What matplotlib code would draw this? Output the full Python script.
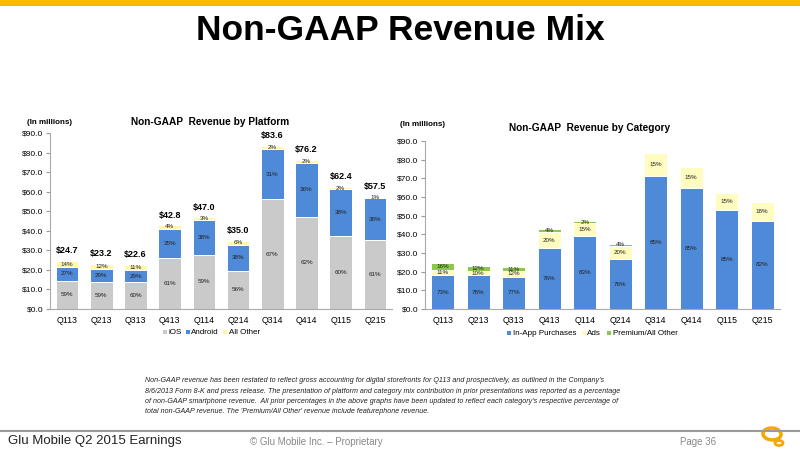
import matplotlib
matplotlib.use("Agg")
import matplotlib.pyplot as plt
import numpy as np
from matplotlib.patches import Ellipse, Rectangle

# données
quarters = ["Q113", "Q213", "Q313", "Q413", "Q114", "Q214", "Q314", "Q414", "Q115", "Q215"]
totals = [24.7, 23.2, 22.6, 42.8, 47.0, 35.0, 83.6, 76.2, 62.4, 57.5]

# revenus par plateforme (%)
ios_pct = [59, 59, 60, 61, 59, 56, 67, 62, 60, 61]
android_pct = [27, 29, 29, 35, 38, 38, 31, 36, 38, 38]
other_pct = [14, 12, 11, 4, 3, 6, 2, 2, 2, 1]

# revenus par catégorie (%)
iap_pct = [73, 78, 77, 76, 83, 76, 85, 85, 85, 82]
ads_pct = [11, 10, 12, 20, 15, 20, 15, 15, 15, 18]
premium_pct = [16, 12, 11, 4, 2, 4, 0, 0, 0, 0]

platform_names = ["iOS", "Android", "All Other"]
platform_colors = ["#CACACA", "#4F8AD8", "#FFF8A8"]
category_names = ["In-App Purchases", "Ads", "Premium/All Other"]
category_colors = ["#4F8AD8", "#FFFCC0", "#8CC850"]

ARIAL = ["Liberation Sans", "DejaVu Sans"]
plt.rcParams["font.family"] = ARIAL

fig = plt.figure(figsize=(8, 4.5), dpi=100)

# bandeau orange en haut
fig.add_artist(Rectangle((0, 1 - 6 / 450), 1, 6 / 450, transform=fig.transFigure,
                         color="#FFB800", lw=0))
fig.text(0.5, 1 - 31 / 450, "Non-GAAP Revenue Mix", ha="center", va="center",
         fontsize=25.5, fontweight="bold")


def stacked(ax, pcts, colors, names, show_totals):
    x = np.arange(len(quarters))
    tot = np.array(totals)
    bottom = np.zeros(len(quarters))
    handles = []
    for pct, col, name in zip(pcts, colors, names):
        vals = tot * np.array(pct) / 100.0
        bars = ax.bar(x, vals, 0.66, bottom=bottom, color=col, edgecolor="white",
                      linewidth=0.7, label=name)
        handles.append(bars)
        for xi, b, v, p in zip(x, bottom, vals, pct):
            if p > 0:
                ax.text(xi, b + v / 2, f"{p}%", ha="center", va="center",
                        fontsize=4.5, color="#222222")
        bottom = bottom + vals
    if show_totals:
        for xi, t in zip(x, totals):
            ax.annotate(f"${t:.1f}", (xi, t), xytext=(0, 4), textcoords="offset points",
                        ha="center", va="bottom", fontsize=6.5, fontweight="bold")
    ax.set_xlim(-0.5, len(quarters) - 0.5)
    ax.set_ylim(0, 90)
    ax.set_yticks(np.arange(0, 91, 10))
    ax.set_yticklabels([f"${v:.1f}" for v in np.arange(0, 91, 10)], fontsize=6)
    ax.set_xticks(x)
    ax.set_xticklabels(quarters, fontsize=6.3)
    ax.tick_params(axis="x", length=0, pad=5)
    ax.tick_params(axis="y", length=3, color="#999999", pad=2)
    for s in ["top", "right"]:
        ax.spines[s].set_visible(False)
    for s in ["left", "bottom"]:
        ax.spines[s].set_color("#AAAAAA")
        ax.spines[s].set_linewidth(0.8)
    return handles


# graphique de gauche : par plateforme
ax1 = fig.add_axes([50 / 800, 1 - 309 / 450, 342 / 800, 176 / 450])
h1 = stacked(ax1, [ios_pct, android_pct, other_pct], platform_colors, platform_names, True)
ax1.legend(handles=h1, labels=platform_names, loc="upper center", bbox_to_anchor=(0.47, -0.07),
           ncol=3, frameon=False, fontsize=5.8, handlelength=0.6, handleheight=0.6,
           handletextpad=0.2, columnspacing=0.4)
fig.text(210 / 800, 1 - 122 / 450, "Non-GAAP  Revenue by Platform", ha="center", va="center",
         fontsize=7.3, fontweight="bold")
fig.text(27 / 800, 1 - 122 / 450, "(In millions)", ha="left", va="center",
         fontsize=5.8, fontweight="bold")

# graphique de droite : par catégorie
ax2 = fig.add_axes([425 / 800, 1 - 309 / 450, 355 / 800, 168 / 450])
h2 = stacked(ax2, [iap_pct, ads_pct, premium_pct], category_colors, category_names, False)
ax2.legend(handles=h2, labels=category_names, loc="upper center", bbox_to_anchor=(0.47, -0.08),
           ncol=3, frameon=False, fontsize=5.8, handlelength=0.6, handleheight=0.6,
           handletextpad=0.2, columnspacing=0.6)
fig.text(590 / 800, 1 - 128 / 450, "Non-GAAP  Revenue by Category", ha="center", va="center",
         fontsize=7.3, fontweight="bold")
fig.text(400 / 800, 1 - 125 / 450, "(In millions)", ha="left", va="center",
         fontsize=5.8, fontweight="bold")

# note de bas de page
note = [
    "Non-GAAP revenue has been restated to reflect gross accounting for digital storefronts for Q113 and prospectively, as outlined in the Company's",
    "8/6/2013 Form 8-K and press release. The presentation of platform and category mix contribution in prior presentations was reported as a percentage",
    "of non-GAAP smartphone revenue.  All prior percentages in the above graphs have been updated to reflect each category's respective percentage of",
    "total non-GAAP revenue. The 'Premium/All Other' revenue include featurephone revenue.",
]
for i, line in enumerate(note):
    fig.text(145 / 800, 1 - (381 + i * 10.3) / 450, line, ha="left", va="center",
             fontsize=5.1, style="italic", color="#222222")

# pied de page
fig.add_artist(plt.Line2D([0, 1], [1 - 431 / 450] * 2, transform=fig.transFigure,
                          color="#9A9A9A", lw=1.5))
fig.text(8 / 800, 1 - 441 / 450, "Glu Mobile Q2 2015 Earnings", ha="left", va="center",
         fontsize=9.5, color="#222222")
fig.text(250 / 800, 1 - 442 / 450, "© Glu Mobile Inc. – Proprietary", ha="left", va="center",
         fontsize=7, color="#888888")
fig.text(680 / 800, 1 - 442 / 450, "Page 36", ha="left", va="center",
         fontsize=7, color="#888888")
fig.add_artist(Ellipse((772 / 800, 1 - 434 / 450), 18 / 800, 12 / 450, transform=fig.transFigure,
                       fill=False, edgecolor="#F5A800", lw=2.5, angle=10))
fig.add_artist(Ellipse((779 / 800, 1 - 443 / 450), 8 / 800, 5 / 450, transform=fig.transFigure,
                       fill=False, edgecolor="#F5A800", lw=2))

plt.savefig("out.png", dpi=100)
